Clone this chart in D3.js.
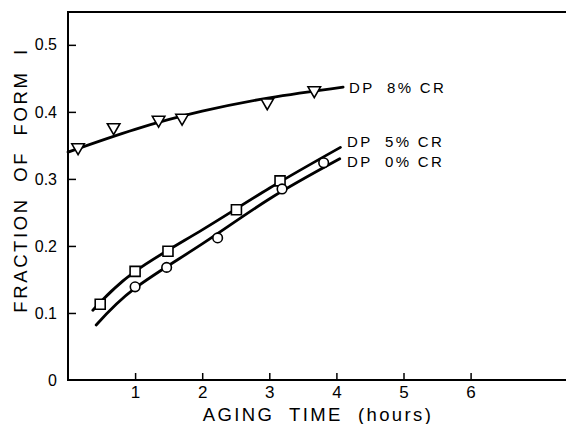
<!DOCTYPE html>
<html>
<head>
<meta charset="utf-8">
<script src="https://cdn.jsdelivr.net/npm/d3@7"></script>
<style>
  html, body { margin: 0; padding: 0; background: #fff; }
  svg { display: block; font-family: "Liberation Sans", Arial, sans-serif; }
</style>
</head>
<body>
<svg id="chart" width="566" height="424"></svg>
<script>
// Measured points: aging time (hours) vs fraction of form I
const cr8Time  = [0.15, 0.68, 1.35, 1.70, 2.97, 3.67];
const cr8Frac  = [0.347, 0.377, 0.388, 0.391, 0.414, 0.432];
const cr5Time  = [0.48, 1.00, 1.49, 2.51, 3.16];
const cr5Frac  = [0.113, 0.162, 0.192, 0.254, 0.297];
const cr0Time  = [1.00, 1.47, 2.23, 3.19, 3.81];
const cr0Frac  = [0.139, 0.168, 0.212, 0.285, 0.324];

// Smoothed trend curves through each series
const cr8FitTime = [0, 1, 2, 3, 4.1];
const cr8FitFrac = [0.340, 0.374, 0.401, 0.421, 0.437];
const cr5FitTime = [0.37, 1, 2, 3, 4.06];
const cr5FitFrac = [0.104, 0.162, 0.224, 0.286, 0.347];
const cr0FitTime = [0.42, 1, 2, 3, 4.05];
const cr0FitFrac = [0.082, 0.137, 0.203, 0.270, 0.330];

const seriesLabels = ["DP  8% CR", "DP  5% CR", "DP  0% CR"];
const xTicks = [1, 2, 3, 4, 5, 6];
const yTicks = [0, 0.1, 0.2, 0.3, 0.4, 0.5];

const svg = d3.select("#chart");
const plotL = 68, plotR = 566, plotT = 12, plotB = 380;

const x = d3.scaleLinear().domain([0, (plotR - plotL) / 67.1]).range([plotL, plotR]);
const y = d3.scaleLinear().domain([0, 0.549]).range([plotB, plotT]);

const zip = (a, b) => a.map((t, i) => [t, b[i]]);

// Frame: left axis, top rule, bottom axis
const frame = svg.append("g").attr("stroke", "#000").attr("stroke-width", 2).attr("fill", "none");
frame.append("line").attr("x1", plotL).attr("x2", plotR).attr("y1", plotT).attr("y2", plotT);
frame.append("line").attr("x1", plotL).attr("x2", plotL).attr("y1", plotT - 1).attr("y2", plotB + 1);
frame.append("line").attr("x1", plotL - 1).attr("x2", plotR).attr("y1", plotB).attr("y2", plotB);

// Y axis ticks point inward
const yAxis = d3.axisLeft(y)
  .tickValues(yTicks)
  .tickSize(-8)
  .tickPadding(11)
  .tickFormat(d => d === 0 ? "0" : d3.format(".1f")(d));
const gy = svg.append("g").attr("transform", `translate(${plotL},0)`).call(yAxis);
gy.select(".domain").remove();
gy.selectAll(".tick line").attr("stroke", "#000").attr("stroke-width", 1.5);
gy.selectAll(".tick").filter(d => d === 0).select("line").remove();
gy.selectAll(".tick text")
  .attr("font-size", 16)
  .attr("font-family", "Liberation Sans, Arial, sans-serif")
  .attr("fill", "#000");

// X axis ticks point inward
const xAxis = d3.axisBottom(x)
  .tickValues(xTicks)
  .tickSize(-7)
  .tickPadding(6)
  .tickFormat(d3.format("d"));
const gx = svg.append("g").attr("transform", `translate(0,${plotB})`).call(xAxis);
gx.select(".domain").remove();
gx.selectAll(".tick line").attr("stroke", "#000").attr("stroke-width", 1.5);
gx.selectAll(".tick text")
  .attr("font-size", 17)
  .attr("font-family", "Liberation Sans, Arial, sans-serif")
  .attr("fill", "#000");

// Axis titles
svg.append("text")
  .attr("x", 318).attr("y", 421)
  .attr("text-anchor", "middle")
  .attr("font-size", 18.5)
  .attr("letter-spacing", 2.4)
  .style("white-space", "pre")
  .attr("fill", "#000")
  .text("AGING  TIME  (hours)");

svg.append("text")
  .attr("transform", "translate(27,180) rotate(-90)")
  .attr("text-anchor", "middle")
  .attr("font-size", 18.5)
  .attr("letter-spacing", 2.6)
  .style("white-space", "pre")
  .attr("fill", "#000")
  .text("FRACTION  OF  FORM  I");

// Trend curves
const line = d3.line().x(d => x(d[0])).y(d => y(d[1])).curve(d3.curveNatural);
const fits = [zip(cr8FitTime, cr8FitFrac), zip(cr5FitTime, cr5FitFrac), zip(cr0FitTime, cr0FitFrac)];
svg.append("g")
  .selectAll("path")
  .data(fits)
  .join("path")
  .attr("d", line)
  .attr("fill", "none")
  .attr("stroke", "#000")
  .attr("stroke-width", 2.8)
  .attr("stroke-linecap", "round");

// Markers
const markerGroups = [
  { pts: zip(cr8Time, cr8Frac), sym: d3.symbolTriangle, size: 68, rot: 180 },
  { pts: zip(cr5Time, cr5Frac), sym: d3.symbolSquare, size: 100, rot: 0 },
  { pts: zip(cr0Time, cr0Frac), sym: d3.symbolCircle, size: 72, rot: 0 }
];
markerGroups.forEach(g => {
  svg.append("g")
    .selectAll("path")
    .data(g.pts)
    .join("path")
    .attr("transform", d => `translate(${x(d[0])},${y(d[1])}) rotate(${g.rot})`)
    .attr("d", d3.symbol().type(g.sym).size(g.size))
    .attr("fill", "#fff")
    .attr("stroke", "#000")
    .attr("stroke-width", 1.6);
});

// Series labels at the ends of the curves
const labelPos = [[349, 93], [347, 147], [347, 167]];
svg.append("g")
  .selectAll("text")
  .data(seriesLabels)
  .join("text")
  .attr("x", (d, i) => labelPos[i][0])
  .attr("y", (d, i) => labelPos[i][1])
  .attr("font-size", 15)
  .attr("letter-spacing", 2.3)
  .style("white-space", "pre")
  .attr("fill", "#000")
  .text(d => d);
</script>
</body>
</html>
